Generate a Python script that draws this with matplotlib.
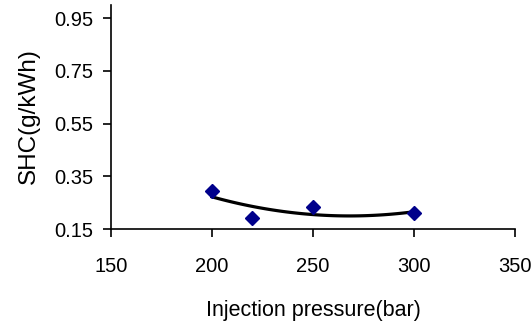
import numpy as np
import matplotlib
matplotlib.use("Agg")
import matplotlib.pyplot as plt

plt.rcParams['font.family'] = ['Liberation Sans', 'DejaVu Sans']

pressure = [200, 220, 250, 300]
shc = [0.294, 0.19, 0.234, 0.21]
xticks = [150, 200, 250, 300, 350]
yticks = [0.15, 0.35, 0.55, 0.75, 0.95]
ytick_labels = ["0.15", "0.35", "0.55", "0.75", "0.95"]

fig = plt.figure(figsize=(5.32, 3.24), dpi=100)
ax = fig.add_axes([0.2086, 0.2932, 0.7594, 0.6914])

# polynomial (order 2) trendline
coef = np.polyfit(pressure, shc, 2)
xs = np.linspace(min(pressure), max(pressure), 100)
ax.plot(xs, np.polyval(coef, xs), color='black', lw=2.3, zorder=2)
ax.plot(pressure, shc, linestyle='none', marker='D', markersize=7,
        color='#00008B', zorder=3)

ax.set_xlim(150, 350)
ax.set_ylim(0.15, 1.0)
ax.set_xticks(xticks)
ax.set_yticks(yticks)
ax.set_yticklabels(ytick_labels)
for s in ['top', 'right']:
    ax.spines[s].set_visible(False)
for s in ['left', 'bottom']:
    ax.spines[s].set_linewidth(1.2)
ax.tick_params(axis='y', direction='out', length=5.5, width=1.2, labelsize=14.5, pad=7)
ax.tick_params(axis='x', direction='out', length=5.5, width=1.2, labelsize=14.5, pad=15)
ax.set_xlabel('Injection pressure(bar)', fontsize=15.5)
ax.xaxis.set_label_coords(0.5, -0.318)
ax.set_ylabel('SHC(g/kWh)', fontsize=17.5)
ax.yaxis.set_label_coords(-0.175, 0.504)

fig.savefig('out.png', dpi=100)
